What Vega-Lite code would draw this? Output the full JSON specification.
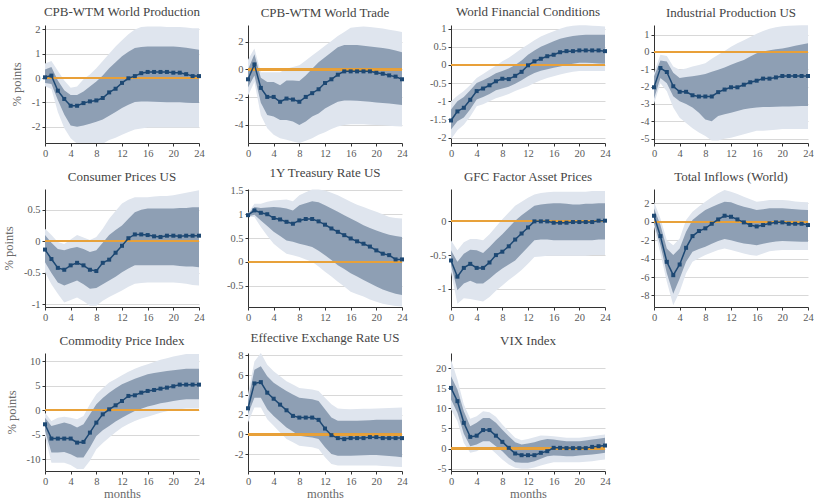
{
"$schema": "https://vega.github.io/schema/vega-lite/v6.json",
"background": "white",
"padding": {"left": 2, "top": 5, "right": 0, "bottom": 0},
"columns": 4,
"spacing": {"row": 46, "column": 49},
"bounds": "flush",
"datasets": {
"wp": [
{"h":0,"irf":0.03,"lo68":-0.2,"hi68":0.35,"lo90":-0.34,"hi90":0.6},
{"h":1,"irf":0.1,"lo68":-0.25,"hi68":0.45,"lo90":-0.45,"hi90":0.7},
{"h":2,"irf":-0.52,"lo68":-0.9,"hi68":-0.1,"lo90":-1.4,"hi90":0.3},
{"h":3,"irf":-0.86,"lo68":-1.5,"hi68":-0.5,"lo90":-2.05,"hi90":-0.1},
{"h":4,"irf":-1.14,"lo68":-1.95,"hi68":-0.7,"lo90":-2.47,"hi90":-0.4},
{"h":5,"irf":-1.14,"lo68":-2.0,"hi68":-0.7,"lo90":-2.7,"hi90":-0.35},
{"h":6,"irf":-1.03,"lo68":-1.95,"hi68":-0.55,"lo90":-2.75,"hi90":-0.05},
{"h":7,"irf":-0.96,"lo68":-1.88,"hi68":-0.35,"lo90":-2.8,"hi90":0.15},
{"h":8,"irf":-0.92,"lo68":-1.8,"hi68":-0.14,"lo90":-2.8,"hi90":0.4},
{"h":9,"irf":-0.82,"lo68":-1.7,"hi68":0.1,"lo90":-2.7,"hi90":0.7},
{"h":10,"irf":-0.59,"lo68":-1.55,"hi68":0.4,"lo90":-2.55,"hi90":1.0},
{"h":11,"irf":-0.44,"lo68":-1.4,"hi68":0.65,"lo90":-2.45,"hi90":1.3},
{"h":12,"irf":-0.2,"lo68":-1.23,"hi68":0.9,"lo90":-2.33,"hi90":1.55},
{"h":13,"irf":-0.01,"lo68":-1.1,"hi68":1.08,"lo90":-2.22,"hi90":1.8},
{"h":14,"irf":0.08,"lo68":-0.98,"hi68":1.23,"lo90":-2.12,"hi90":2.0},
{"h":15,"irf":0.2,"lo68":-0.96,"hi68":1.28,"lo90":-2.07,"hi90":2.1},
{"h":16,"irf":0.25,"lo68":-0.96,"hi68":1.3,"lo90":-2.03,"hi90":2.12},
{"h":17,"irf":0.25,"lo68":-0.97,"hi68":1.3,"lo90":-2.03,"hi90":2.12},
{"h":18,"irf":0.25,"lo68":-0.98,"hi68":1.3,"lo90":-2.03,"hi90":2.12},
{"h":19,"irf":0.25,"lo68":-1.0,"hi68":1.3,"lo90":-2.03,"hi90":2.1},
{"h":20,"irf":0.22,"lo68":-1.0,"hi68":1.3,"lo90":-2.03,"hi90":2.1},
{"h":21,"irf":0.22,"lo68":-1.0,"hi68":1.28,"lo90":-2.03,"hi90":2.1},
{"h":22,"irf":0.16,"lo68":-1.02,"hi68":1.25,"lo90":-2.03,"hi90":2.08},
{"h":23,"irf":0.08,"lo68":-1.03,"hi68":1.2,"lo90":-2.03,"hi90":2.05},
{"h":24,"irf":0.08,"lo68":-1.03,"hi68":1.16,"lo90":-2.03,"hi90":2.05}
],
"wt": [
{"h":0,"irf":-0.71,"lo68":-1.3,"hi68":0.0,"lo90":-1.9,"hi90":0.7},
{"h":1,"irf":0.36,"lo68":-0.43,"hi68":1.1,"lo90":-0.9,"hi90":1.5},
{"h":2,"irf":-1.33,"lo68":-2.4,"hi68":-0.6,"lo90":-3.3,"hi90":-0.2},
{"h":3,"irf":-1.98,"lo68":-3.29,"hi68":-0.9,"lo90":-4.24,"hi90":-0.2},
{"h":4,"irf":-1.98,"lo68":-3.4,"hi68":-0.9,"lo90":-4.7,"hi90":-0.2},
{"h":5,"irf":-2.33,"lo68":-3.64,"hi68":-1.14,"lo90":-4.95,"hi90":-0.2},
{"h":6,"irf":-2.1,"lo68":-3.64,"hi68":-0.79,"lo90":-5.07,"hi90":0.05},
{"h":7,"irf":-2.17,"lo68":-3.76,"hi68":-0.8,"lo90":-5.2,"hi90":0.18},
{"h":8,"irf":-2.33,"lo68":-4.0,"hi68":-0.83,"lo90":-5.3,"hi90":0.3},
{"h":9,"irf":-1.98,"lo68":-3.76,"hi68":-0.43,"lo90":-5.14,"hi90":0.65},
{"h":10,"irf":-1.71,"lo68":-3.4,"hi68":0.05,"lo90":-4.95,"hi90":1.0},
{"h":11,"irf":-1.43,"lo68":-3.17,"hi68":0.52,"lo90":-4.7,"hi90":1.35},
{"h":12,"irf":-0.98,"lo68":-2.81,"hi68":0.88,"lo90":-4.52,"hi90":1.7},
{"h":13,"irf":-0.71,"lo68":-2.57,"hi68":1.24,"lo90":-4.3,"hi90":2.05},
{"h":14,"irf":-0.38,"lo68":-2.33,"hi68":1.6,"lo90":-4.12,"hi90":2.4},
{"h":15,"irf":-0.14,"lo68":-2.24,"hi68":1.76,"lo90":-4.0,"hi90":2.7},
{"h":16,"irf":-0.14,"lo68":-2.24,"hi68":1.76,"lo90":-3.95,"hi90":3.0},
{"h":17,"irf":-0.14,"lo68":-2.26,"hi68":1.76,"lo90":-3.95,"hi90":3.05},
{"h":18,"irf":-0.14,"lo68":-2.29,"hi68":1.71,"lo90":-3.95,"hi90":3.1},
{"h":19,"irf":-0.14,"lo68":-2.33,"hi68":1.66,"lo90":-3.98,"hi90":3.05},
{"h":20,"irf":-0.24,"lo68":-2.38,"hi68":1.6,"lo90":-4.0,"hi90":3.0},
{"h":21,"irf":-0.31,"lo68":-2.41,"hi68":1.55,"lo90":-4.03,"hi90":2.95},
{"h":22,"irf":-0.43,"lo68":-2.45,"hi68":1.48,"lo90":-4.06,"hi90":2.85},
{"h":23,"irf":-0.52,"lo68":-2.5,"hi68":1.36,"lo90":-4.09,"hi90":2.78},
{"h":24,"irf":-0.71,"lo68":-2.57,"hi68":1.24,"lo90":-4.12,"hi90":2.7}
],
"wfc": [
{"h":0,"irf":-1.53,"lo68":-1.78,"hi68":-1.23,"lo90":-2.05,"hi90":-1.0},
{"h":1,"irf":-1.28,"lo68":-1.55,"hi68":-1.0,"lo90":-1.8,"hi90":-0.85},
{"h":2,"irf":-1.18,"lo68":-1.45,"hi68":-0.88,"lo90":-1.65,"hi90":-0.72},
{"h":3,"irf":-0.96,"lo68":-1.22,"hi68":-0.7,"lo90":-1.42,"hi90":-0.55},
{"h":4,"irf":-0.72,"lo68":-0.95,"hi68":-0.5,"lo90":-1.14,"hi90":-0.36},
{"h":5,"irf":-0.65,"lo68":-0.88,"hi68":-0.42,"lo90":-1.08,"hi90":-0.25},
{"h":6,"irf":-0.56,"lo68":-0.8,"hi68":-0.33,"lo90":-1.0,"hi90":-0.13},
{"h":7,"irf":-0.45,"lo68":-0.7,"hi68":-0.23,"lo90":-0.92,"hi90":-0.02},
{"h":8,"irf":-0.38,"lo68":-0.65,"hi68":-0.17,"lo90":-0.86,"hi90":0.1},
{"h":9,"irf":-0.39,"lo68":-0.6,"hi68":-0.1,"lo90":-0.8,"hi90":0.2},
{"h":10,"irf":-0.3,"lo68":-0.52,"hi68":0.0,"lo90":-0.72,"hi90":0.32},
{"h":11,"irf":-0.19,"lo68":-0.42,"hi68":0.12,"lo90":-0.65,"hi90":0.45},
{"h":12,"irf":-0.01,"lo68":-0.31,"hi68":0.28,"lo90":-0.59,"hi90":0.56},
{"h":13,"irf":0.1,"lo68":-0.22,"hi68":0.4,"lo90":-0.5,"hi90":0.68},
{"h":14,"irf":0.17,"lo68":-0.16,"hi68":0.5,"lo90":-0.42,"hi90":0.78},
{"h":15,"irf":0.24,"lo68":-0.12,"hi68":0.58,"lo90":-0.36,"hi90":0.86},
{"h":16,"irf":0.28,"lo68":-0.08,"hi68":0.65,"lo90":-0.31,"hi90":0.93},
{"h":17,"irf":0.35,"lo68":-0.04,"hi68":0.72,"lo90":-0.26,"hi90":1.0},
{"h":18,"irf":0.38,"lo68":0.0,"hi68":0.76,"lo90":-0.22,"hi90":1.05},
{"h":19,"irf":0.38,"lo68":0.03,"hi68":0.8,"lo90":-0.19,"hi90":1.08},
{"h":20,"irf":0.4,"lo68":0.06,"hi68":0.82,"lo90":-0.17,"hi90":1.09},
{"h":21,"irf":0.4,"lo68":0.06,"hi68":0.83,"lo90":-0.17,"hi90":1.09},
{"h":22,"irf":0.4,"lo68":0.05,"hi68":0.83,"lo90":-0.17,"hi90":1.08},
{"h":23,"irf":0.4,"lo68":0.04,"hi68":0.83,"lo90":-0.17,"hi90":1.07},
{"h":24,"irf":0.38,"lo68":0.03,"hi68":0.83,"lo90":-0.17,"hi90":1.06}
],
"ip": [
{"h":0,"irf":-2.04,"lo68":-2.7,"hi68":-1.4,"lo90":-3.0,"hi90":-1.2},
{"h":1,"irf":-0.93,"lo68":-1.5,"hi68":-0.5,"lo90":-1.8,"hi90":-0.17},
{"h":2,"irf":-1.16,"lo68":-1.8,"hi68":-0.55,"lo90":-2.27,"hi90":-0.23},
{"h":3,"irf":-1.98,"lo68":-2.55,"hi68":-1.2,"lo90":-3.2,"hi90":-0.84},
{"h":4,"irf":-2.3,"lo68":-2.85,"hi68":-1.5,"lo90":-3.8,"hi90":-1.03},
{"h":5,"irf":-2.3,"lo68":-3.0,"hi68":-1.45,"lo90":-4.1,"hi90":-0.95},
{"h":6,"irf":-2.5,"lo68":-3.2,"hi68":-1.4,"lo90":-4.4,"hi90":-0.84},
{"h":7,"irf":-2.57,"lo68":-3.5,"hi68":-1.35,"lo90":-4.65,"hi90":-0.75},
{"h":8,"irf":-2.57,"lo68":-3.9,"hi68":-1.28,"lo90":-4.85,"hi90":-0.65},
{"h":9,"irf":-2.57,"lo68":-4.0,"hi68":-1.15,"lo90":-5.1,"hi90":-0.4},
{"h":10,"irf":-2.32,"lo68":-3.7,"hi68":-1.03,"lo90":-5.1,"hi90":-0.17},
{"h":11,"irf":-2.17,"lo68":-3.6,"hi68":-0.9,"lo90":-5.0,"hi90":0.05},
{"h":12,"irf":-2.04,"lo68":-3.5,"hi68":-0.74,"lo90":-4.95,"hi90":0.3},
{"h":13,"irf":-2.04,"lo68":-3.4,"hi68":-0.6,"lo90":-4.85,"hi90":0.5},
{"h":14,"irf":-1.89,"lo68":-3.3,"hi68":-0.46,"lo90":-4.75,"hi90":0.67},
{"h":15,"irf":-1.75,"lo68":-3.25,"hi68":-0.26,"lo90":-4.65,"hi90":0.86},
{"h":16,"irf":-1.66,"lo68":-3.2,"hi68":-0.08,"lo90":-4.55,"hi90":1.05},
{"h":17,"irf":-1.54,"lo68":-3.18,"hi68":0.02,"lo90":-4.55,"hi90":1.2},
{"h":18,"irf":-1.54,"lo68":-3.17,"hi68":0.1,"lo90":-4.52,"hi90":1.34},
{"h":19,"irf":-1.47,"lo68":-3.16,"hi68":0.15,"lo90":-4.48,"hi90":1.42},
{"h":20,"irf":-1.39,"lo68":-3.15,"hi68":0.2,"lo90":-4.45,"hi90":1.48},
{"h":21,"irf":-1.39,"lo68":-3.14,"hi68":0.27,"lo90":-4.45,"hi90":1.5},
{"h":22,"irf":-1.39,"lo68":-3.13,"hi68":0.35,"lo90":-4.45,"hi90":1.52},
{"h":23,"irf":-1.39,"lo68":-3.12,"hi68":0.42,"lo90":-4.45,"hi90":1.53},
{"h":24,"irf":-1.39,"lo68":-3.12,"hi68":0.5,"lo90":-4.45,"hi90":1.53}
],
"cpi": [
{"h":0,"irf":-0.13,"lo68":-0.33,"hi68":0.1,"lo90":-0.49,"hi90":0.2},
{"h":1,"irf":-0.28,"lo68":-0.5,"hi68":-0.02,"lo90":-0.68,"hi90":0.1},
{"h":2,"irf":-0.42,"lo68":-0.65,"hi68":-0.12,"lo90":-0.83,"hi90":-0.01},
{"h":3,"irf":-0.45,"lo68":-0.7,"hi68":-0.14,"lo90":-0.97,"hi90":-0.04},
{"h":4,"irf":-0.38,"lo68":-0.66,"hi68":-0.11,"lo90":-0.93,"hi90":0.03},
{"h":5,"irf":-0.34,"lo68":-0.62,"hi68":-0.09,"lo90":-0.89,"hi90":0.1},
{"h":6,"irf":-0.38,"lo68":-0.68,"hi68":-0.12,"lo90":-0.95,"hi90":0.06},
{"h":7,"irf":-0.45,"lo68":-0.75,"hi68":-0.17,"lo90":-1.02,"hi90":0.02},
{"h":8,"irf":-0.47,"lo68":-0.74,"hi68":-0.14,"lo90":-1.02,"hi90":0.07},
{"h":9,"irf":-0.34,"lo68":-0.68,"hi68":-0.02,"lo90":-0.94,"hi90":0.2},
{"h":10,"irf":-0.29,"lo68":-0.62,"hi68":0.1,"lo90":-0.88,"hi90":0.36},
{"h":11,"irf":-0.18,"lo68":-0.56,"hi68":0.18,"lo90":-0.83,"hi90":0.48},
{"h":12,"irf":-0.07,"lo68":-0.49,"hi68":0.25,"lo90":-0.78,"hi90":0.6},
{"h":13,"irf":0.05,"lo68":-0.43,"hi68":0.36,"lo90":-0.72,"hi90":0.66},
{"h":14,"irf":0.11,"lo68":-0.38,"hi68":0.46,"lo90":-0.67,"hi90":0.7},
{"h":15,"irf":0.11,"lo68":-0.38,"hi68":0.5,"lo90":-0.66,"hi90":0.7},
{"h":16,"irf":0.1,"lo68":-0.38,"hi68":0.52,"lo90":-0.65,"hi90":0.7},
{"h":17,"irf":0.08,"lo68":-0.38,"hi68":0.52,"lo90":-0.65,"hi90":0.71},
{"h":18,"irf":0.07,"lo68":-0.38,"hi68":0.52,"lo90":-0.65,"hi90":0.72},
{"h":19,"irf":0.09,"lo68":-0.38,"hi68":0.52,"lo90":-0.65,"hi90":0.72},
{"h":20,"irf":0.09,"lo68":-0.38,"hi68":0.52,"lo90":-0.65,"hi90":0.73},
{"h":21,"irf":0.08,"lo68":-0.39,"hi68":0.53,"lo90":-0.66,"hi90":0.75},
{"h":22,"irf":0.09,"lo68":-0.4,"hi68":0.53,"lo90":-0.67,"hi90":0.77},
{"h":23,"irf":0.09,"lo68":-0.4,"hi68":0.54,"lo90":-0.69,"hi90":0.79},
{"h":24,"irf":0.09,"lo68":-0.41,"hi68":0.54,"lo90":-0.7,"hi90":0.81}
],
"ty": [
{"h":0,"irf":0.98,"lo68":0.95,"hi68":1.0,"lo90":0.94,"hi90":1.02},
{"h":1,"irf":1.08,"lo68":0.99,"hi68":1.15,"lo90":0.94,"hi90":1.22},
{"h":2,"irf":1.03,"lo68":0.87,"hi68":1.13,"lo90":0.73,"hi90":1.22},
{"h":3,"irf":1.0,"lo68":0.75,"hi68":1.14,"lo90":0.55,"hi90":1.26},
{"h":4,"irf":0.92,"lo68":0.63,"hi68":1.15,"lo90":0.38,"hi90":1.29},
{"h":5,"irf":0.89,"lo68":0.54,"hi68":1.14,"lo90":0.27,"hi90":1.3},
{"h":6,"irf":0.84,"lo68":0.45,"hi68":1.12,"lo90":0.17,"hi90":1.31},
{"h":7,"irf":0.8,"lo68":0.42,"hi68":1.08,"lo90":0.14,"hi90":1.27},
{"h":8,"irf":0.87,"lo68":0.38,"hi68":1.19,"lo90":0.1,"hi90":1.4},
{"h":9,"irf":0.9,"lo68":0.35,"hi68":1.23,"lo90":0.05,"hi90":1.46},
{"h":10,"irf":0.9,"lo68":0.31,"hi68":1.27,"lo90":0.0,"hi90":1.52},
{"h":11,"irf":0.85,"lo68":0.23,"hi68":1.25,"lo90":-0.1,"hi90":1.52},
{"h":12,"irf":0.78,"lo68":0.14,"hi68":1.19,"lo90":-0.21,"hi90":1.5},
{"h":13,"irf":0.7,"lo68":0.04,"hi68":1.12,"lo90":-0.31,"hi90":1.45},
{"h":14,"irf":0.63,"lo68":-0.07,"hi68":1.05,"lo90":-0.42,"hi90":1.4},
{"h":15,"irf":0.56,"lo68":-0.15,"hi68":0.98,"lo90":-0.52,"hi90":1.33},
{"h":16,"irf":0.49,"lo68":-0.24,"hi68":0.91,"lo90":-0.63,"hi90":1.26},
{"h":17,"irf":0.43,"lo68":-0.31,"hi68":0.84,"lo90":-0.68,"hi90":1.2},
{"h":18,"irf":0.38,"lo68":-0.38,"hi68":0.77,"lo90":-0.73,"hi90":1.15},
{"h":19,"irf":0.32,"lo68":-0.45,"hi68":0.71,"lo90":-0.79,"hi90":1.1},
{"h":20,"irf":0.24,"lo68":-0.52,"hi68":0.66,"lo90":-0.84,"hi90":1.05},
{"h":21,"irf":0.17,"lo68":-0.58,"hi68":0.61,"lo90":-0.88,"hi90":1.0},
{"h":22,"irf":0.14,"lo68":-0.63,"hi68":0.57,"lo90":-0.91,"hi90":0.94},
{"h":23,"irf":0.05,"lo68":-0.67,"hi68":0.54,"lo90":-0.93,"hi90":0.92},
{"h":24,"irf":0.05,"lo68":-0.7,"hi68":0.52,"lo90":-0.94,"hi90":0.91}
],
"gfc": [
{"h":0,"irf":-0.58,"lo68":-0.65,"hi68":-0.43,"lo90":-0.75,"hi90":-0.28},
{"h":1,"irf":-0.82,"lo68":-1.02,"hi68":-0.6,"lo90":-1.22,"hi90":-0.43},
{"h":2,"irf":-0.69,"lo68":-0.92,"hi68":-0.48,"lo90":-1.14,"hi90":-0.31},
{"h":3,"irf":-0.63,"lo68":-0.88,"hi68":-0.42,"lo90":-1.15,"hi90":-0.26},
{"h":4,"irf":-0.69,"lo68":-0.92,"hi68":-0.43,"lo90":-1.17,"hi90":-0.26},
{"h":5,"irf":-0.69,"lo68":-0.92,"hi68":-0.47,"lo90":-1.19,"hi90":-0.28},
{"h":6,"irf":-0.61,"lo68":-0.85,"hi68":-0.38,"lo90":-1.12,"hi90":-0.19},
{"h":7,"irf":-0.5,"lo68":-0.77,"hi68":-0.28,"lo90":-1.03,"hi90":-0.08},
{"h":8,"irf":-0.45,"lo68":-0.7,"hi68":-0.19,"lo90":-0.95,"hi90":0.03},
{"h":9,"irf":-0.37,"lo68":-0.64,"hi68":-0.09,"lo90":-0.87,"hi90":0.13},
{"h":10,"irf":-0.27,"lo68":-0.58,"hi68":0.01,"lo90":-0.8,"hi90":0.23},
{"h":11,"irf":-0.18,"lo68":-0.48,"hi68":0.09,"lo90":-0.72,"hi90":0.29},
{"h":12,"irf":-0.09,"lo68":-0.38,"hi68":0.16,"lo90":-0.63,"hi90":0.35},
{"h":13,"irf":0.0,"lo68":-0.28,"hi68":0.23,"lo90":-0.53,"hi90":0.4},
{"h":14,"irf":0.0,"lo68":-0.27,"hi68":0.25,"lo90":-0.52,"hi90":0.42},
{"h":15,"irf":0.0,"lo68":-0.27,"hi68":0.26,"lo90":-0.51,"hi90":0.43},
{"h":16,"irf":-0.02,"lo68":-0.28,"hi68":0.27,"lo90":-0.51,"hi90":0.44},
{"h":17,"irf":-0.02,"lo68":-0.28,"hi68":0.27,"lo90":-0.51,"hi90":0.44},
{"h":18,"irf":-0.02,"lo68":-0.28,"hi68":0.26,"lo90":-0.51,"hi90":0.44},
{"h":19,"irf":-0.01,"lo68":-0.28,"hi68":0.25,"lo90":-0.51,"hi90":0.44},
{"h":20,"irf":-0.01,"lo68":-0.28,"hi68":0.25,"lo90":-0.51,"hi90":0.44},
{"h":21,"irf":-0.01,"lo68":-0.28,"hi68":0.26,"lo90":-0.51,"hi90":0.44},
{"h":22,"irf":-0.01,"lo68":-0.28,"hi68":0.26,"lo90":-0.5,"hi90":0.45},
{"h":23,"irf":0.01,"lo68":-0.27,"hi68":0.27,"lo90":-0.5,"hi90":0.45},
{"h":24,"irf":0.01,"lo68":-0.27,"hi68":0.27,"lo90":-0.5,"hi90":0.45}
],
"inf": [
{"h":0,"irf":0.65,"lo68":-0.18,"hi68":1.45,"lo90":-0.54,"hi90":2.17},
{"h":1,"irf":-1.56,"lo68":-2.54,"hi68":-0.36,"lo90":-3.44,"hi90":0.36},
{"h":2,"irf":-4.35,"lo68":-5.6,"hi68":-2.9,"lo90":-6.52,"hi90":-2.0},
{"h":3,"irf":-5.8,"lo68":-7.8,"hi68":-3.62,"lo90":-9.06,"hi90":-2.54},
{"h":4,"irf":-4.64,"lo68":-6.15,"hi68":-2.9,"lo90":-7.6,"hi90":-1.81},
{"h":5,"irf":-2.83,"lo68":-4.35,"hi68":-1.09,"lo90":-5.6,"hi90":0.18},
{"h":6,"irf":-1.56,"lo68":-3.26,"hi68":0.18,"lo90":-4.35,"hi90":1.09},
{"h":7,"irf":-1.01,"lo68":-2.95,"hi68":0.75,"lo90":-3.95,"hi90":1.65},
{"h":8,"irf":-0.72,"lo68":-2.72,"hi68":1.27,"lo90":-3.62,"hi90":2.17},
{"h":9,"irf":-0.22,"lo68":-2.4,"hi68":1.6,"lo90":-3.35,"hi90":2.65},
{"h":10,"irf":0.25,"lo68":-2.1,"hi68":1.89,"lo90":-3.08,"hi90":3.08},
{"h":11,"irf":0.65,"lo68":-1.88,"hi68":2.17,"lo90":-2.9,"hi90":3.44},
{"h":12,"irf":0.54,"lo68":-2.0,"hi68":2.1,"lo90":-3.08,"hi90":3.26},
{"h":13,"irf":0.25,"lo68":-2.2,"hi68":1.85,"lo90":-3.25,"hi90":3.0},
{"h":14,"irf":-0.07,"lo68":-2.36,"hi68":1.63,"lo90":-3.44,"hi90":2.72},
{"h":15,"irf":-0.36,"lo68":-2.45,"hi68":1.45,"lo90":-3.6,"hi90":2.45},
{"h":16,"irf":-0.51,"lo68":-2.54,"hi68":1.27,"lo90":-3.7,"hi90":2.17},
{"h":17,"irf":-0.36,"lo68":-2.4,"hi68":1.35,"lo90":-3.45,"hi90":2.25},
{"h":18,"irf":-0.18,"lo68":-2.25,"hi68":1.45,"lo90":-3.2,"hi90":2.35},
{"h":19,"irf":-0.07,"lo68":-2.15,"hi68":1.45,"lo90":-3.12,"hi90":2.35},
{"h":20,"irf":-0.07,"lo68":-2.1,"hi68":1.45,"lo90":-3.08,"hi90":2.35},
{"h":21,"irf":-0.22,"lo68":-2.12,"hi68":1.4,"lo90":-3.08,"hi90":2.3},
{"h":22,"irf":-0.22,"lo68":-2.14,"hi68":1.35,"lo90":-3.08,"hi90":2.2},
{"h":23,"irf":-0.22,"lo68":-2.16,"hi68":1.3,"lo90":-3.08,"hi90":2.15},
{"h":24,"irf":-0.36,"lo68":-2.17,"hi68":1.27,"lo90":-3.08,"hi90":2.1}
],
"com": [
{"h":0,"irf":-2.86,"lo68":-4.2,"hi68":-1.5,"lo90":-5.24,"hi90":-0.5},
{"h":1,"irf":-5.78,"lo68":-8.6,"hi68":-3.2,"lo90":-10.7,"hi90":-2.18},
{"h":2,"irf":-5.78,"lo68":-8.6,"hi68":-2.86,"lo90":-10.7,"hi90":-1.5},
{"h":3,"irf":-5.78,"lo68":-8.5,"hi68":-2.5,"lo90":-10.7,"hi90":-1.3},
{"h":4,"irf":-5.78,"lo68":-9.0,"hi68":-2.86,"lo90":-11.2,"hi90":-1.5},
{"h":5,"irf":-6.6,"lo68":-9.66,"hi68":-3.54,"lo90":-12.0,"hi90":-1.84},
{"h":6,"irf":-6.46,"lo68":-9.66,"hi68":-2.86,"lo90":-12.0,"hi90":-1.16},
{"h":7,"irf":-4.56,"lo68":-7.6,"hi68":-0.82,"lo90":-10.3,"hi90":1.22},
{"h":8,"irf":-2.52,"lo68":-5.24,"hi68":1.22,"lo90":-7.96,"hi90":3.27},
{"h":9,"irf":-0.82,"lo68":-4.1,"hi68":2.5,"lo90":-6.7,"hi90":4.5},
{"h":10,"irf":0.2,"lo68":-3.2,"hi68":3.6,"lo90":-5.58,"hi90":5.65},
{"h":11,"irf":1.02,"lo68":-2.3,"hi68":4.5,"lo90":-4.5,"hi90":6.4},
{"h":12,"irf":1.9,"lo68":-1.5,"hi68":5.3,"lo90":-3.54,"hi90":7.14},
{"h":13,"irf":2.93,"lo68":-0.8,"hi68":5.9,"lo90":-2.8,"hi90":7.85},
{"h":14,"irf":3.06,"lo68":-0.14,"hi68":6.46,"lo90":-2.18,"hi90":8.5},
{"h":15,"irf":3.6,"lo68":0.3,"hi68":6.9,"lo90":-1.7,"hi90":9.0},
{"h":16,"irf":3.95,"lo68":0.75,"hi68":7.35,"lo90":-1.3,"hi90":9.4},
{"h":17,"irf":4.15,"lo68":1.1,"hi68":7.6,"lo90":-0.9,"hi90":9.85},
{"h":18,"irf":4.42,"lo68":1.43,"hi68":7.8,"lo90":-0.48,"hi90":10.3},
{"h":19,"irf":4.63,"lo68":1.65,"hi68":8.0,"lo90":-0.2,"hi90":10.65},
{"h":20,"irf":4.9,"lo68":1.9,"hi68":8.2,"lo90":0.07,"hi90":11.0},
{"h":21,"irf":5.24,"lo68":2.1,"hi68":8.35,"lo90":0.2,"hi90":11.25},
{"h":22,"irf":5.24,"lo68":2.24,"hi68":8.5,"lo90":0.34,"hi90":11.5},
{"h":23,"irf":5.24,"lo68":2.24,"hi68":8.5,"lo90":0.34,"hi90":11.5},
{"h":24,"irf":5.24,"lo68":2.24,"hi68":8.5,"lo90":0.34,"hi90":11.5}
],
"eer": [
{"h":0,"irf":2.65,"lo68":2.05,"hi68":3.4,"lo90":1.21,"hi90":4.06},
{"h":1,"irf":5.17,"lo68":3.72,"hi68":6.55,"lo90":2.72,"hi90":7.4},
{"h":2,"irf":5.3,"lo68":3.72,"hi68":6.9,"lo90":2.72,"hi90":8.24},
{"h":3,"irf":4.23,"lo68":2.55,"hi68":5.9,"lo90":1.54,"hi90":7.06},
{"h":4,"irf":3.62,"lo68":1.88,"hi68":5.23,"lo90":0.87,"hi90":6.4},
{"h":5,"irf":3.02,"lo68":1.3,"hi68":4.8,"lo90":0.2,"hi90":5.9},
{"h":6,"irf":2.45,"lo68":0.7,"hi68":4.4,"lo90":-0.47,"hi90":5.4},
{"h":7,"irf":1.88,"lo68":0.3,"hi68":4.05,"lo90":-0.8,"hi90":5.05},
{"h":8,"irf":1.71,"lo68":-0.13,"hi68":3.72,"lo90":-1.14,"hi90":4.7},
{"h":9,"irf":1.71,"lo68":-0.22,"hi68":3.65,"lo90":-1.22,"hi90":4.63},
{"h":10,"irf":1.71,"lo68":-0.3,"hi68":3.56,"lo90":-1.3,"hi90":4.56},
{"h":11,"irf":1.48,"lo68":-0.47,"hi68":3.4,"lo90":-1.48,"hi90":4.4},
{"h":12,"irf":0.6,"lo68":-1.3,"hi68":2.55,"lo90":-2.3,"hi90":3.72},
{"h":13,"irf":-0.07,"lo68":-1.98,"hi68":1.71,"lo90":-2.98,"hi90":3.05},
{"h":14,"irf":-0.37,"lo68":-2.15,"hi68":1.38,"lo90":-3.15,"hi90":2.62},
{"h":15,"irf":-0.47,"lo68":-2.15,"hi68":1.38,"lo90":-3.15,"hi90":2.58},
{"h":16,"irf":-0.37,"lo68":-2.15,"hi68":1.38,"lo90":-3.15,"hi90":2.55},
{"h":17,"irf":-0.37,"lo68":-2.12,"hi68":1.4,"lo90":-3.15,"hi90":2.57},
{"h":18,"irf":-0.37,"lo68":-2.1,"hi68":1.42,"lo90":-3.15,"hi90":2.6},
{"h":19,"irf":-0.27,"lo68":-2.09,"hi68":1.45,"lo90":-3.15,"hi90":2.61},
{"h":20,"irf":-0.27,"lo68":-2.08,"hi68":1.48,"lo90":-3.15,"hi90":2.62},
{"h":21,"irf":-0.37,"lo68":-2.13,"hi68":1.48,"lo90":-3.19,"hi90":2.65},
{"h":22,"irf":-0.37,"lo68":-2.18,"hi68":1.48,"lo90":-3.23,"hi90":2.68},
{"h":23,"irf":-0.37,"lo68":-2.24,"hi68":1.48,"lo90":-3.27,"hi90":2.7},
{"h":24,"irf":-0.37,"lo68":-2.3,"hi68":1.48,"lo90":-3.3,"hi90":2.72}
],
"vix": [
{"h":0,"irf":15.1,"lo68":12.2,"hi68":18,"lo90":9.7,"hi90":22.2},
{"h":1,"irf":11.8,"lo68":8.9,"hi68":14.7,"lo90":6.8,"hi90":17.2},
{"h":2,"irf":6.4,"lo68":3.7,"hi68":9.3,"lo90":1.4,"hi90":10.95},
{"h":3,"irf":2.9,"lo68":0.58,"hi68":5.56,"lo90":-1.08,"hi90":7.4},
{"h":4,"irf":3.2,"lo68":1.0,"hi68":6.4,"lo90":-0.66,"hi90":8.05},
{"h":5,"irf":4.6,"lo68":1.8,"hi68":7.6,"lo90":0.17,"hi90":9.3},
{"h":6,"irf":4.6,"lo68":1.8,"hi68":7.6,"lo90":0.17,"hi90":9.05},
{"h":7,"irf":3.2,"lo68":0.58,"hi68":6.4,"lo90":-1.24,"hi90":7.9},
{"h":8,"irf":1.66,"lo68":-0.66,"hi68":4.7,"lo90":-2.74,"hi90":6.0},
{"h":9,"irf":0.17,"lo68":-2.3,"hi68":3.07,"lo90":-3.98,"hi90":4.3},
{"h":10,"irf":-1.24,"lo68":-3.4,"hi68":1.58,"lo90":-4.8,"hi90":2.66},
{"h":11,"irf":-1.66,"lo68":-3.57,"hi68":1.0,"lo90":-5.06,"hi90":2.07},
{"h":12,"irf":-1.66,"lo68":-3.57,"hi68":1.24,"lo90":-5.06,"hi90":2.4},
{"h":13,"irf":-1.66,"lo68":-3.15,"hi68":1.58,"lo90":-4.7,"hi90":2.8},
{"h":14,"irf":-1.08,"lo68":-2.57,"hi68":2.07,"lo90":-4.23,"hi90":3.24},
{"h":15,"irf":-0.66,"lo68":-1.9,"hi68":2.4,"lo90":-3.8,"hi90":3.2},
{"h":16,"irf":0.17,"lo68":-1.74,"hi68":2.24,"lo90":-3.4,"hi90":3.07},
{"h":17,"irf":0.17,"lo68":-1.8,"hi68":2.0,"lo90":-3.4,"hi90":2.85},
{"h":18,"irf":0.1,"lo68":-1.9,"hi68":1.83,"lo90":-3.4,"hi90":2.66},
{"h":19,"irf":0.1,"lo68":-1.9,"hi68":1.83,"lo90":-3.4,"hi90":2.66},
{"h":20,"irf":0.1,"lo68":-1.74,"hi68":1.83,"lo90":-3.4,"hi90":2.66},
{"h":21,"irf":0.1,"lo68":-1.6,"hi68":2.0,"lo90":-3.3,"hi90":2.85},
{"h":22,"irf":0.41,"lo68":-1.5,"hi68":2.24,"lo90":-3.15,"hi90":3.07},
{"h":23,"irf":0.58,"lo68":-1.3,"hi68":2.45,"lo90":-2.95,"hi90":3.3},
{"h":24,"irf":0.75,"lo68":-1.08,"hi68":2.66,"lo90":-2.74,"hi90":3.5}
]
},
"concat": [
{"title":"CPB-WTM World Production","data":{"name":"wp"},"width":154,"height":118,"layer":[
{"mark":{"type":"area","color":"#dfe5ee","clip":true},"encoding":{"x":{"field":"h","type":"quantitative","scale":{"domain":[0,24],"nice":false},"axis":{"values":[0,4,8,12,16,20,24],"tickCount":30,"labelOverlap":false,"labelFlush":false},"title":null},"y":{"field":"lo90","type":"quantitative","scale":{"domain":[-2.67,2.18],"nice":false,"zero":false},"axis":{"values":[-2,-1,0,1,2],"tickCount":30,"labelOverlap":false},"title":"% points"},"y2":{"field":"hi90"}}},
{"mark":{"type":"area","color":"#8e9fb4","clip":true},"encoding":{"x":{"field":"h","type":"quantitative","title":null},"y":{"field":"lo68","type":"quantitative","title":"% points"},"y2":{"field":"hi68"}}},
{"mark":{"type":"rule","color":"#e8a13a","strokeWidth":1.5},"encoding":{"x":{"datum":0,"type":"quantitative","title":null},"x2":{"datum":24},"y":{"datum":0,"type":"quantitative","title":"% points"}}},
{"mark":{"type":"line","color":"#1d4873","strokeWidth":1.5,"point":{"shape":"square","size":16,"filled":true,"color":"#1d4873"}},"encoding":{"x":{"field":"h","type":"quantitative","title":null},"y":{"field":"irf","type":"quantitative","title":"% points"}}}
]},
{"title":"CPB-WTM World Trade","data":{"name":"wt"},"width":154,"height":118,"layer":[
{"mark":{"type":"area","color":"#dfe5ee","clip":true},"encoding":{"x":{"field":"h","type":"quantitative","scale":{"domain":[0,24],"nice":false},"axis":{"values":[0,4,8,12,16,20,24],"tickCount":30,"labelOverlap":false,"labelFlush":false},"title":null},"y":{"field":"lo90","type":"quantitative","scale":{"domain":[-5.3,3.2],"nice":false,"zero":false},"axis":{"values":[-4,-2,0,2],"tickCount":30,"labelOverlap":false},"title":null},"y2":{"field":"hi90"}}},
{"mark":{"type":"area","color":"#8e9fb4","clip":true},"encoding":{"x":{"field":"h","type":"quantitative","title":null},"y":{"field":"lo68","type":"quantitative","title":null},"y2":{"field":"hi68"}}},
{"mark":{"type":"rule","color":"#e8a13a","strokeWidth":1.5},"encoding":{"x":{"datum":0,"type":"quantitative","title":null},"x2":{"datum":24},"y":{"datum":0,"type":"quantitative","title":null}}},
{"mark":{"type":"line","color":"#1d4873","strokeWidth":1.5,"point":{"shape":"square","size":16,"filled":true,"color":"#1d4873"}},"encoding":{"x":{"field":"h","type":"quantitative","title":null},"y":{"field":"irf","type":"quantitative","title":null}}}
]},
{"title":"World Financial Conditions","data":{"name":"wfc"},"width":154,"height":118,"layer":[
{"mark":{"type":"area","color":"#dfe5ee","clip":true},"encoding":{"x":{"field":"h","type":"quantitative","scale":{"domain":[0,24],"nice":false},"axis":{"values":[0,4,8,12,16,20,24],"tickCount":30,"labelOverlap":false,"labelFlush":false},"title":null},"y":{"field":"lo90","type":"quantitative","scale":{"domain":[-2.15,1.1],"nice":false,"zero":false},"axis":{"values":[-2,-1.5,-1,-0.5,0,0.5,1],"tickCount":30,"labelOverlap":false},"title":null},"y2":{"field":"hi90"}}},
{"mark":{"type":"area","color":"#8e9fb4","clip":true},"encoding":{"x":{"field":"h","type":"quantitative","title":null},"y":{"field":"lo68","type":"quantitative","title":null},"y2":{"field":"hi68"}}},
{"mark":{"type":"rule","color":"#e8a13a","strokeWidth":1.5},"encoding":{"x":{"datum":0,"type":"quantitative","title":null},"x2":{"datum":24},"y":{"datum":0,"type":"quantitative","title":null}}},
{"mark":{"type":"line","color":"#1d4873","strokeWidth":1.5,"point":{"shape":"square","size":16,"filled":true,"color":"#1d4873"}},"encoding":{"x":{"field":"h","type":"quantitative","title":null},"y":{"field":"irf","type":"quantitative","title":null}}}
]},
{"title":"Industrial Production US","data":{"name":"ip"},"width":154,"height":118,"layer":[
{"mark":{"type":"area","color":"#dfe5ee","clip":true},"encoding":{"x":{"field":"h","type":"quantitative","scale":{"domain":[0,24],"nice":false},"axis":{"values":[0,4,8,12,16,20,24],"tickCount":30,"labelOverlap":false,"labelFlush":false},"title":null},"y":{"field":"lo90","type":"quantitative","scale":{"domain":[-5.25,1.55],"nice":false,"zero":false},"axis":{"values":[-5,-4,-3,-2,-1,0,1],"tickCount":30,"labelOverlap":false},"title":null},"y2":{"field":"hi90"}}},
{"mark":{"type":"area","color":"#8e9fb4","clip":true},"encoding":{"x":{"field":"h","type":"quantitative","title":null},"y":{"field":"lo68","type":"quantitative","title":null},"y2":{"field":"hi68"}}},
{"mark":{"type":"rule","color":"#e8a13a","strokeWidth":1.5},"encoding":{"x":{"datum":0,"type":"quantitative","title":null},"x2":{"datum":24},"y":{"datum":0,"type":"quantitative","title":null}}},
{"mark":{"type":"line","color":"#1d4873","strokeWidth":1.5,"point":{"shape":"square","size":16,"filled":true,"color":"#1d4873"}},"encoding":{"x":{"field":"h","type":"quantitative","title":null},"y":{"field":"irf","type":"quantitative","title":null}}}
]},
{"title":"Consumer Prices US","data":{"name":"cpi"},"width":154,"height":118,"layer":[
{"mark":{"type":"area","color":"#dfe5ee","clip":true},"encoding":{"x":{"field":"h","type":"quantitative","scale":{"domain":[0,24],"nice":false},"axis":{"values":[0,4,8,12,16,20,24],"tickCount":30,"labelOverlap":false,"labelFlush":false},"title":null},"y":{"field":"lo90","type":"quantitative","scale":{"domain":[-1.04,0.83],"nice":false,"zero":false},"axis":{"values":[-1,-0.5,0,0.5],"tickCount":30,"labelOverlap":false},"title":"% points"},"y2":{"field":"hi90"}}},
{"mark":{"type":"area","color":"#8e9fb4","clip":true},"encoding":{"x":{"field":"h","type":"quantitative","title":null},"y":{"field":"lo68","type":"quantitative","title":"% points"},"y2":{"field":"hi68"}}},
{"mark":{"type":"rule","color":"#e8a13a","strokeWidth":1.5},"encoding":{"x":{"datum":0,"type":"quantitative","title":null},"x2":{"datum":24},"y":{"datum":0,"type":"quantitative","title":"% points"}}},
{"mark":{"type":"line","color":"#1d4873","strokeWidth":1.5,"point":{"shape":"square","size":16,"filled":true,"color":"#1d4873"}},"encoding":{"x":{"field":"h","type":"quantitative","title":null},"y":{"field":"irf","type":"quantitative","title":"% points"}}}
]},
{"title":"1Y Treasury Rate US","data":{"name":"ty"},"width":154,"height":118,"layer":[
{"mark":{"type":"area","color":"#dfe5ee","clip":true},"encoding":{"x":{"field":"h","type":"quantitative","scale":{"domain":[0,24],"nice":false},"axis":{"values":[0,4,8,12,16,20,24],"tickCount":30,"labelOverlap":false,"labelFlush":false},"title":null},"y":{"field":"lo90","type":"quantitative","scale":{"domain":[-0.95,1.53],"nice":false,"zero":false},"axis":{"values":[-0.5,0,0.5,1,1.5],"tickCount":30,"labelOverlap":false},"title":null},"y2":{"field":"hi90"}}},
{"mark":{"type":"area","color":"#8e9fb4","clip":true},"encoding":{"x":{"field":"h","type":"quantitative","title":null},"y":{"field":"lo68","type":"quantitative","title":null},"y2":{"field":"hi68"}}},
{"mark":{"type":"rule","color":"#e8a13a","strokeWidth":1.5},"encoding":{"x":{"datum":0,"type":"quantitative","title":null},"x2":{"datum":24},"y":{"datum":0,"type":"quantitative","title":null}}},
{"mark":{"type":"line","color":"#1d4873","strokeWidth":1.5,"point":{"shape":"square","size":16,"filled":true,"color":"#1d4873"}},"encoding":{"x":{"field":"h","type":"quantitative","title":null},"y":{"field":"irf","type":"quantitative","title":null}}}
]},
{"title":"GFC Factor Asset Prices","data":{"name":"gfc"},"width":154,"height":118,"layer":[
{"mark":{"type":"area","color":"#dfe5ee","clip":true},"encoding":{"x":{"field":"h","type":"quantitative","scale":{"domain":[0,24],"nice":false},"axis":{"values":[0,4,8,12,16,20,24],"tickCount":30,"labelOverlap":false,"labelFlush":false},"title":null},"y":{"field":"lo90","type":"quantitative","scale":{"domain":[-1.27,0.48],"nice":false,"zero":false},"axis":{"values":[-1,-0.5,0],"tickCount":30,"labelOverlap":false},"title":null},"y2":{"field":"hi90"}}},
{"mark":{"type":"area","color":"#8e9fb4","clip":true},"encoding":{"x":{"field":"h","type":"quantitative","title":null},"y":{"field":"lo68","type":"quantitative","title":null},"y2":{"field":"hi68"}}},
{"mark":{"type":"rule","color":"#e8a13a","strokeWidth":1.5},"encoding":{"x":{"datum":0,"type":"quantitative","title":null},"x2":{"datum":24},"y":{"datum":0,"type":"quantitative","title":null}}},
{"mark":{"type":"line","color":"#1d4873","strokeWidth":1.5,"point":{"shape":"square","size":16,"filled":true,"color":"#1d4873"}},"encoding":{"x":{"field":"h","type":"quantitative","title":null},"y":{"field":"irf","type":"quantitative","title":null}}}
]},
{"title":"Total Inflows (World)","data":{"name":"inf"},"width":154,"height":118,"layer":[
{"mark":{"type":"area","color":"#dfe5ee","clip":true},"encoding":{"x":{"field":"h","type":"quantitative","scale":{"domain":[0,24],"nice":false},"axis":{"values":[0,4,8,12,16,20,24],"tickCount":30,"labelOverlap":false,"labelFlush":false},"title":null},"y":{"field":"lo90","type":"quantitative","scale":{"domain":[-9.25,3.55],"nice":false,"zero":false},"axis":{"values":[-8,-6,-4,-2,0,2],"tickCount":30,"labelOverlap":false},"title":null},"y2":{"field":"hi90"}}},
{"mark":{"type":"area","color":"#8e9fb4","clip":true},"encoding":{"x":{"field":"h","type":"quantitative","title":null},"y":{"field":"lo68","type":"quantitative","title":null},"y2":{"field":"hi68"}}},
{"mark":{"type":"rule","color":"#e8a13a","strokeWidth":1.5},"encoding":{"x":{"datum":0,"type":"quantitative","title":null},"x2":{"datum":24},"y":{"datum":0,"type":"quantitative","title":null}}},
{"mark":{"type":"line","color":"#1d4873","strokeWidth":1.5,"point":{"shape":"square","size":16,"filled":true,"color":"#1d4873"}},"encoding":{"x":{"field":"h","type":"quantitative","title":null},"y":{"field":"irf","type":"quantitative","title":null}}}
]},
{"title":"Commodity Price Index","data":{"name":"com"},"width":154,"height":118,"layer":[
{"mark":{"type":"area","color":"#dfe5ee","clip":true},"encoding":{"x":{"field":"h","type":"quantitative","scale":{"domain":[0,24],"nice":false},"axis":{"values":[0,4,8,12,16,20,24],"tickCount":30,"labelOverlap":false,"labelFlush":false},"title":"months"},"y":{"field":"lo90","type":"quantitative","scale":{"domain":[-12.4,11.7],"nice":false,"zero":false},"axis":{"values":[-10,-5,0,5,10],"tickCount":30,"labelOverlap":false},"title":"% points"},"y2":{"field":"hi90"}}},
{"mark":{"type":"area","color":"#8e9fb4","clip":true},"encoding":{"x":{"field":"h","type":"quantitative","title":"months"},"y":{"field":"lo68","type":"quantitative","title":"% points"},"y2":{"field":"hi68"}}},
{"mark":{"type":"rule","color":"#e8a13a","strokeWidth":1.5},"encoding":{"x":{"datum":0,"type":"quantitative","title":"months"},"x2":{"datum":24},"y":{"datum":0,"type":"quantitative","title":"% points"}}},
{"mark":{"type":"line","color":"#1d4873","strokeWidth":1.5,"point":{"shape":"square","size":16,"filled":true,"color":"#1d4873"}},"encoding":{"x":{"field":"h","type":"quantitative","title":"months"},"y":{"field":"irf","type":"quantitative","title":"% points"}}}
]},
{"title":"Effective Exchange Rate US","data":{"name":"eer"},"width":154,"height":118,"layer":[
{"mark":{"type":"area","color":"#dfe5ee","clip":true},"encoding":{"x":{"field":"h","type":"quantitative","scale":{"domain":[0,24],"nice":false},"axis":{"values":[0,4,8,12,16,20,24],"tickCount":30,"labelOverlap":false,"labelFlush":false},"title":"months"},"y":{"field":"lo90","type":"quantitative","scale":{"domain":[-3.7,8.25],"nice":false,"zero":false},"axis":{"values":[-2,0,2,4,6,8],"tickCount":30,"labelOverlap":false},"title":null},"y2":{"field":"hi90"}}},
{"mark":{"type":"area","color":"#8e9fb4","clip":true},"encoding":{"x":{"field":"h","type":"quantitative","title":"months"},"y":{"field":"lo68","type":"quantitative","title":null},"y2":{"field":"hi68"}}},
{"mark":{"type":"rule","color":"#e8a13a","strokeWidth":1.5},"encoding":{"x":{"datum":0,"type":"quantitative","title":"months"},"x2":{"datum":24},"y":{"datum":0,"type":"quantitative","title":null}}},
{"mark":{"type":"line","color":"#1d4873","strokeWidth":1.5,"point":{"shape":"square","size":16,"filled":true,"color":"#1d4873"}},"encoding":{"x":{"field":"h","type":"quantitative","title":"months"},"y":{"field":"irf","type":"quantitative","title":null}}}
]},
{"title":"VIX Index","data":{"name":"vix"},"width":154,"height":118,"layer":[
{"mark":{"type":"area","color":"#dfe5ee","clip":true},"encoding":{"x":{"field":"h","type":"quantitative","scale":{"domain":[0,24],"nice":false},"axis":{"values":[0,4,8,12,16,20,24],"tickCount":30,"labelOverlap":false,"labelFlush":false},"title":"months"},"y":{"field":"lo90","type":"quantitative","scale":{"domain":[-5.6,23.8],"nice":false,"zero":false},"axis":{"values":[-5,0,5,10,15,20],"tickCount":30,"labelOverlap":false},"title":null},"y2":{"field":"hi90"}}},
{"mark":{"type":"area","color":"#8e9fb4","clip":true},"encoding":{"x":{"field":"h","type":"quantitative","title":"months"},"y":{"field":"lo68","type":"quantitative","title":null},"y2":{"field":"hi68"}}},
{"mark":{"type":"rule","color":"#e8a13a","strokeWidth":1.5},"encoding":{"x":{"datum":0,"type":"quantitative","title":"months"},"x2":{"datum":24},"y":{"datum":0,"type":"quantitative","title":null}}},
{"mark":{"type":"line","color":"#1d4873","strokeWidth":1.5,"point":{"shape":"square","size":16,"filled":true,"color":"#1d4873"}},"encoding":{"x":{"field":"h","type":"quantitative","title":"months"},"y":{"field":"irf","type":"quantitative","title":null}}}
]}
],
"config": {
"font": "Liberation Serif",
"view": {"stroke": null},
"title": {"font": "Liberation Serif", "fontSize": 13, "fontWeight": "normal", "color": "#444444", "offset": 5},
"axis": {"labelFont": "Liberation Serif", "labelFontSize": 10.5, "labelColor": "#5a5a5a", "labelOverlap": false, "titleFont": "Liberation Serif", "titleFontSize": 12.5, "titleFontWeight": "normal", "titleColor": "#6a6a6a", "domainColor": "#333333", "tickColor": "#333333", "tickSize": 3, "labelPadding": 2, "zindex": 1},
"axisX": {"grid": false, "titlePadding": 1},
"axisY": {"grid": true, "gridColor": "#c8c8c8", "gridOpacity": 0.7, "titlePadding": 8, "labelExpr": "replace(format(datum.value, '~g'), '\u2212', '-')"}
}
}
